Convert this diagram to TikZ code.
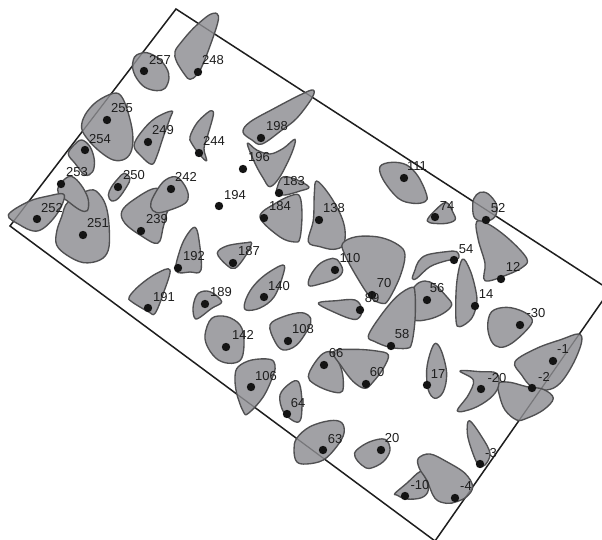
\documentclass[tikz,border=0pt]{standalone}
\usepackage{fontspec}
\setmainfont{Liberation Sans}
\definecolor{blobfill}{HTML}{A1A1A5}
\definecolor{bloblinecol}{HTML}{505052}
\definecolor{rimseen}{HTML}{77777A}
\definecolor{inkcol}{HTML}{1E1E1E}
\tikzset{
  zoomframe/.style 2 args={shift={(#1,#2)},x=0.33333pt,y=-0.33333pt},
  rimline/.style={line width=1.5pt,draw=inkcol,line join=miter},
  rimshown/.style={line width=1.2pt,draw=rimseen},
  blobarea/.style={fill=blobfill,draw=none},
  blobedge/.style={draw=bloblinecol,line width=1.35pt,line join=round},
  sitedot/.style={circle,fill=black!92,inner sep=0pt,minimum size=8.4pt},
  sitelabel/.style={font=\fontsize{13}{14}\selectfont,text=inkcol,inner sep=0pt}
}
\newcommand{\blobshape}[3]{%
  \begin{scope}[zoomframe={#1}{#2}]
    \path[blobarea] plot[smooth cycle,tension=0.6] coordinates{#3};
    \begin{scope}
      \clip plot[smooth cycle,tension=0.6] coordinates{#3};
      \draw[rimshown] (rA)--(rB)--(rC)--(rD)--cycle;
    \end{scope}
    \draw[blobedge] plot[smooth cycle,tension=0.6] coordinates{#3};
  \end{scope}}
\newcommand{\site}[6]{%
  \node[sitedot] (d#1) at (#2,#3) {};
  \node[sitelabel] (t#1) at (#4,#5) {#6};}
\begin{document}
\begin{tikzpicture}[x=1pt,y=-1pt]
\useasboundingbox (0,0) rectangle (602,540);
\clip (0,0) rectangle (602,540);
\fill[white] (0,0) rectangle (602,540);
\coordinate (rA) at (176,9);
\coordinate (rB) at (610,290);
\coordinate (rC) at (435,541);
\coordinate (rD) at (10,226);
\draw[rimline] (rA)--(rB)--(rC)--(rD)--cycle;
% upper-left region
\blobshape{0}{0}{(640,40)(652,42)(655,60)(640,110)(610,190)(590,225)(570,238)(555,225)(530,185)(525,155)(545,125)(580,85)(620,50)}
\blobshape{0}{0}{(410,165)(440,158)(475,175)(500,205)(507,235)(495,265)(470,272)(435,262)(410,235)(398,205)(400,180)}
\blobshape{0}{0}{(245,420)(270,440)(283,480)(278,515)(255,525)(225,490)(205,462)(222,435)}
\blobshape{0}{0}{(340,280)(365,290)(385,340)(398,400)(395,450)(375,477)(340,480)(300,455)(265,420)(245,385)(255,345)(290,305)}
\blobshape{0}{0}{(270,570)(300,585)(320,625)(328,690)(325,750)(300,780)(250,788)(200,765)(170,735)(170,695)(185,650)(205,605)}
\blobshape{0}{0}{(205,530)(225,535)(250,565)(265,600)(262,632)(240,630)(205,605)(175,580)(178,555)}
\blobshape{0}{0}{(25,645)(85,605)(145,588)(190,582)(188,610)(165,650)(130,685)(100,693)(60,675)}
\blobshape{0}{0}{(372,520)(390,535)(380,560)(355,595)(335,603)(325,585)(335,560)(355,535)}
\blobshape{0}{0}{(515,333)(510,355)(490,410)(470,470)(455,493)(425,470)(402,437)(425,395)(465,355)}
\blobshape{0}{0}{(635,332)(640,345)(625,400)(612,445)(620,482)(600,465)(575,430)(570,410)(590,370)(620,340)}
\blobshape{0}{0}{(365,635)(400,600)(470,565)(510,610)(500,640)(490,680)(473,730)(420,705)(375,670)}
\blobshape{0}{0}{(525,530)(550,550)(565,585)(555,610)(510,630)(470,638)(452,620)(460,590)(490,545)}
\blobshape{0}{0}{(729,396)(750,366)(825,324)(900,285)(939,270)(936,294)(891,354)(846,390)(786,432)(756,420)}
\blobshape{0}{0}{(742,430)(770,450)(810,462)(850,445)(885,418)(875,460)(840,530)(810,560)(790,535)(765,490)}
\blobshape{0}{0}{(849,531)(885,537)(927,561)(900,573)(855,585)(831,579)(834,555)}
\blobshape{0}{0}{(780,651)(828,609)(879,585)(900,591)(906,645)(900,714)(885,726)(840,711)}
\blobshape{0}{0}{(585,682)(597,720)(603,810)(570,816)(528,813)(540,750)(561,705)}
\blobshape{0}{0}{(652,760)(680,738)(740,728)(755,730)(735,770)(705,805)(680,795)}
% centre and right
\blobshape{300}{130}{(50,153)(85,190)(120,250)(135,300)(130,345)(100,358)(60,350)(25,335)(40,270)(43,190)}
\blobshape{300}{130}{(240,110)(275,97)(320,105)(355,140)(380,195)(375,215)(340,220)(295,205)(250,150)}
\blobshape{300}{130}{(540,187)(565,192)(590,225)(585,260)(555,275)(525,265)(518,235)(522,205)}
\blobshape{300}{130}{(382,273)(415,232)(440,218)(458,245)(465,270)(430,281)}
\blobshape{300}{130}{(530,275)(570,285)(630,330)(680,385)(670,410)(620,435)(555,452)(555,400)(535,330)}
\blobshape{300}{130}{(128,340)(170,320)(240,322)(295,345)(315,375)(300,440)(265,510)(245,520)(210,500)(170,440)(135,375)}
\blobshape{300}{130}{(85,388)(110,388)(128,420)(110,445)(60,462)(27,467)(30,440)(55,405)}
\blobshape{300}{130}{(345,420)(355,395)(380,375)(440,365)(470,365)(475,385)(440,392)(390,410)(350,445)(337,445)}
\blobshape{300}{130}{(487,388)(510,420)(527,480)(530,520)(515,565)(480,590)(468,570)(470,460)}
\blobshape{300}{130}{(345,468)(375,453)(405,465)(440,500)(455,525)(430,550)(385,568)(340,568)(320,520)}
\blobshape{300}{130}{(335,472)(345,490)(345,570)(335,640)(320,655)(270,652)(225,635)(205,618)(240,560)(290,500)}
\blobshape{300}{130}{(55,520)(110,512)(165,510)(185,535)(180,560)(160,568)(110,550)}
\blobshape{300}{130}{(575,545)(620,532)(670,545)(697,570)(680,600)(635,640)(600,652)(575,635)(563,590)}
\blobshape{300}{130}{(407,640)(425,665)(440,730)(430,785)(405,805)(385,780)(380,720)(392,665)}
% lower left
\blobshape{120}{270}{(610,250)(640,250)(665,300)(670,350)(660,368)(620,360)(580,340)(565,320)(580,285)}
\blobshape{120}{270}{(640,245)(700,238)(770,243)(805,255)(790,295)(760,335)(735,355)(700,335)(665,290)}
\blobshape{120}{270}{(530,505)(570,470)(630,452)(665,458)(672,490)(650,530)(610,570)(560,582)(530,575)(522,540)}
\blobshape{120}{270}{(480,375)(510,340)(535,335)(545,380)(543,445)(525,455)(490,425)}
\blobshape{120}{270}{(355,290)(395,270)(450,268)(465,285)(460,315)(430,380)(385,430)(370,425)(350,370)(345,320)}
\blobshape{120}{270}{(275,145)(320,140)(360,165)(372,210)(365,265)(335,280)(295,270)(265,235)(255,195)}
\blobshape{120}{270}{(450,165)(490,140)(545,128)(572,145)(565,175)(530,225)(490,240)(465,215)}
\blobshape{120}{270}{(235,70)(270,65)(305,95)(275,115)(235,145)(222,140)(220,105)}
\blobshape{120}{270}{(489,-15)(489,15)(462,81)(420,114)(378,120)(375,96)(396,54)(435,15)}
\blobshape{120}{270}{(150,0)(130,70)(105,130)(85,125)(35,95)(28,80)(60,45)(110,10)}
% lower right
\blobshape{340}{330}{(525,95)(590,55)(665,28)(715,12)(725,35)(700,100)(660,160)(620,180)(575,170)(545,135)}
\blobshape{340}{330}{(475,160)(510,157)(560,170)(610,178)(640,205)(610,240)(560,265)(530,270)(495,240)(478,195)}
\blobshape{340}{330}{(360,123)(420,125)(470,130)(475,170)(450,205)(400,235)(352,243)(385,195)(400,150)}
\blobshape{340}{330}{(388,272)(425,320)(450,370)(435,405)(415,405)(395,360)(382,310)}
\blobshape{340}{330}{(165,490)(200,460)(240,425)(255,440)(265,480)(245,503)(200,507)(170,495)}
\blobshape{340}{330}{(235,385)(270,372)(320,395)(375,430)(398,470)(380,500)(350,515)(320,520)(285,505)(260,450)(238,415)}
\blobshape{340}{330}{(50,360)(90,335)(135,328)(150,360)(130,395)(90,415)(65,405)(45,380)}
% sites and labels
\site{257}{144}{71}{160}{60}{257}
\site{248}{198}{72}{213}{60}{248}
\site{255}{107}{120}{122}{108}{255}
\site{254}{85}{150}{100}{139}{254}
\site{253}{61}{184}{77}{172}{253}
\site{252}{37}{219}{52}{208}{252}
\site{251}{83}{235}{98}{223}{251}
\site{250}{118}{187}{134}{175}{250}
\site{249}{148}{142}{163}{130}{249}
\site{244}{199}{153}{214}{141}{244}
\site{242}{171}{189}{186}{177}{242}
\site{239}{141}{231}{157}{219}{239}
\site{198}{261}{138}{277}{126}{198}
\site{196}{243}{169}{259}{157}{196}
\site{194}{219}{206}{235}{195}{194}
\site{183}{279}{193}{294}{181}{183}
\site{184}{264}{218}{280}{206}{184}
\site{192}{178}{268}{194}{256}{192}
\site{187}{233}{263}{249}{251}{187}
\site{191}{148}{308}{164}{297}{191}
\site{189}{205}{304}{221}{292}{189}
\site{140}{264}{297}{279}{286}{140}
\site{142}{226}{347}{243}{335}{142}
\site{108}{288}{341}{303}{329}{108}
\site{106}{251}{387}{266}{376}{106}
\site{64}{287}{414}{298}{403}{64}
\site{66}{324}{365}{336}{353}{66}
\site{60}{366}{384}{377}{372}{60}
\site{63}{323}{450}{335}{439}{63}
\site{20}{381}{450}{392}{438}{20}
\site{138}{319}{220}{334}{208}{138}
\site{110}{335}{270}{350}{258}{110}
\site{70}{372}{295}{384}{283}{70}
\site{89}{360}{310}{372}{298}{89}
\site{111}{404}{178}{417}{166}{111}
\site{74}{435}{217}{447}{206}{74}
\site{52}{486}{220}{498}{208}{52}
\site{12}{501}{279}{513}{267}{12}
\site{54}{454}{260}{466}{249}{54}
\site{14}{475}{306}{486}{294}{14}
\site{56}{427}{300}{437}{288}{56}
\site{58}{391}{346}{402}{334}{58}
\site{17}{427}{385}{438}{374}{17}
\site{m30}{520}{325}{536}{313}{-30}
\site{m1}{553}{361}{563}{349}{-1}
\site{m2}{532}{388}{544}{377}{-2}
\site{m20}{481}{389}{497}{378}{-20}
\site{m3}{480}{464}{491}{453}{-3}
\site{m4}{455}{498}{466}{486}{-4}
\site{m10}{405}{496}{420}{485}{-10}
\end{tikzpicture}
\end{document}
